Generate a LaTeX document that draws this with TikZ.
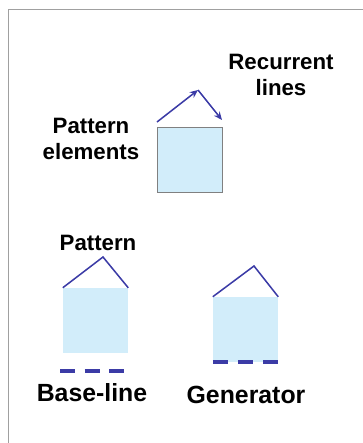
\documentclass[tikz,border=0pt]{standalone}
\usepackage{fontspec}
\setmainfont{Liberation Sans}
\usetikzlibrary{arrows.meta}

\definecolor{boxblue}{HTML}{D2EDFA}
\definecolor{linkblue}{HTML}{3B3BA6}
\definecolor{framegray}{HTML}{A0A0A0}

\tikzset{
  lbl/.style={font=\bfseries\fontsize{19}{22}\selectfont,align=center,inner sep=0},
  biglbl/.style={lbl,font=\bfseries\fontsize{21.2}{24}\selectfont},
  elem/.style={fill=boxblue,minimum width=1.95cm,minimum height=1.95cm,inner sep=0},
  roof/.style={draw=linkblue,line width=1.3pt},
  base/.style={draw=linkblue,line width=3.4pt,dash pattern=on 13pt off 8pt}
}

\begin{document}
\begin{tikzpicture}[x=0.03cm,y=-0.03cm]
        \useasboundingbox (0,0) rectangle (363,443);
        \draw[framegray,line width=0.8pt] (8,443) -- (8,9) -- (363,9);

        % top: one element with its recurrent lines
        \node[elem,draw=gray,line width=0.8pt] (sq1) at (190,159.5) {};
        \coordinate (a) at (157,122);
        \coordinate (top) at (198,90);
        \coordinate (b) at (222,120);
        \draw[roof,-{Stealth[length=7pt,width=6pt]}] (a) -- (top);
        \draw[roof,-{Stealth[length=7pt,width=6pt]}] (top) -- (b);
        \node[lbl] (elems) at (91,139) {Pattern\\elements};
        \node[lbl] (rec) at (281,75) {Recurrent\\lines};

        % bottom left: pattern over its base-line
        \node[elem] (sq2) at (95.5,320.5) {};
        \coordinate (p2) at (103,257);
        \draw[roof] (sq2.north west) -- (p2) -- (sq2.north east);
        \coordinate (b2l) at (60,371);
        \coordinate (b2r) at (125,371);
        \draw[base] (b2l) -- (b2r);
        \node[lbl] (pat) at (98,243) {Pattern};
        \node[biglbl] (bl) at (92,393) {Base-line};

        % bottom right: generator
        \node[elem] (sq3) at (245.5,329.5) {};
        \coordinate (p3) at (254,266);
        \draw[roof] (sq3.north west) -- (p3) -- (sq3.north east);
        \draw[base,dash pattern=on 13pt off 8.5pt] (sq3.south west) -- (sq3.south east);
        \node[biglbl] (gen) at (246,395) {Generator};
      \end{tikzpicture}
\end{document}
